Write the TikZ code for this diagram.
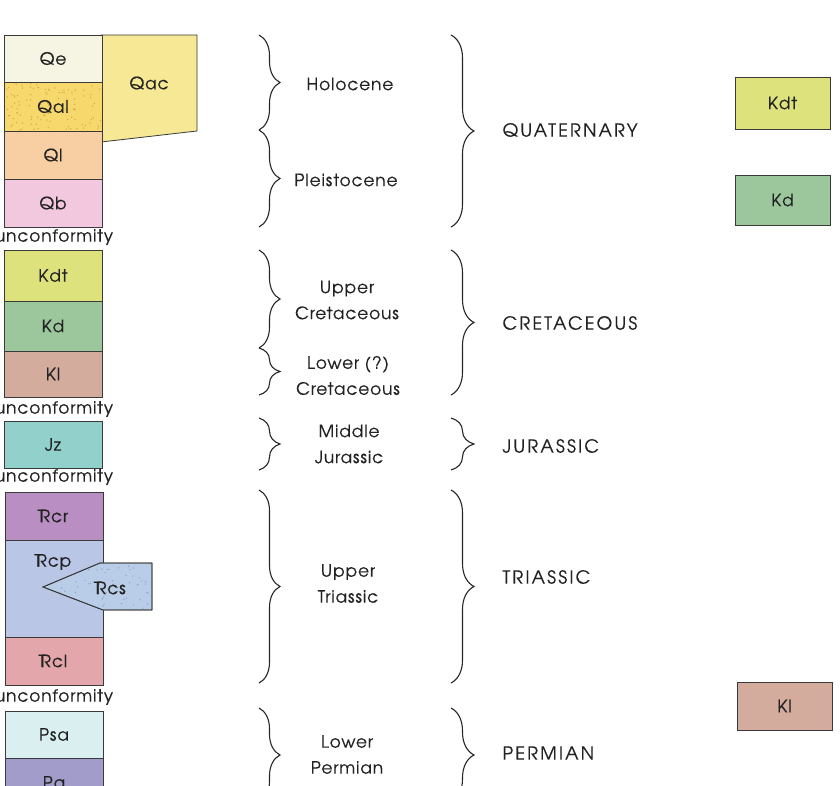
\documentclass[tikz,border=0pt]{standalone}
\usepackage{fontspec}
\setmainfont{TeX Gyre Adventor}[LetterSpace=5,FakeBold=0.35]
\usetikzlibrary{decorations.pathreplacing}
\definecolor{linec}{HTML}{3A3A3A}
\definecolor{cQe}{HTML}{F6F4E2}
\definecolor{cQal}{HTML}{F6D86C}
\definecolor{dQal}{HTML}{D9A84A}
\definecolor{cQac}{HTML}{F6E894}
\definecolor{cQl}{HTML}{F7CFA2}
\definecolor{cQb}{HTML}{F1C8DE}
\definecolor{cKdt}{HTML}{DDE27C}
\definecolor{cKd}{HTML}{9CC69C}
\definecolor{cKl}{HTML}{D3AC9E}
\definecolor{cJz}{HTML}{92D0CC}
\definecolor{cRcr}{HTML}{B98EC2}
\definecolor{cRcp}{HTML}{BAC6E6}
\definecolor{cRcs}{HTML}{BACDE8}
\definecolor{dRcs}{HTML}{8E9FC2}
\definecolor{cRcl}{HTML}{E3A6AA}
\definecolor{cPsa}{HTML}{DAEFEF}
\definecolor{cPq}{HTML}{A29CCB}
\definecolor{txt}{HTML}{222222}
\newcommand\TRsym{\makebox[0pt][l]{\kern-0.14em T}R}
\begin{document}
\begin{tikzpicture}[x=1pt,y=-1pt,
  font=\fontsize{17}{20}\selectfont, text=txt,
  layer/.style={draw=linec, line width=0.8pt, minimum width=98pt, inner sep=0pt, outer sep=0pt},
  sidebox/.style={draw=linec, line width=0.8pt, minimum width=95pt, inner sep=0pt, outer sep=0pt},
  bsmall/.style={draw=black!85, line width=1.1pt, decorate, decoration={brace, amplitude=21pt}},
  blarge/.style={draw=black!85, line width=1.1pt, decorate, decoration={brace, amplitude=23pt}},
  epoch/.style={align=center, font=\fontsize{17}{26}\selectfont},
  period/.style={anchor=west, font=\fontsize{18}{20}\selectfont\addfontfeatures{LetterSpace=12}},
  uncon/.style={font=\fontsize{17}{20}\selectfont}]
\useasboundingbox (0,0) rectangle (840,786);
\clip (0,0) rectangle (840,786);

% Qac wedge
\draw[draw=linec, line width=0.8pt, fill=cQac] (101,35) -- (197,35) -- (197,131) -- (101,142) -- cycle;
\node (qac) at (149,83) {Qac};

% Quaternary column
\node[layer, fill=cQe, minimum height=47pt] (qe) at (53,58.5) {};
\node[layer, fill=cQal, minimum height=49pt] (qal) at (53,106.5) {};
\pgfmathsetseed{7}
\begin{scope}
\clip (4,82) rectangle (102,131);
\foreach \i in {1,...,110} {\fill[dQal] ({4+98*rnd},{82+49*rnd}) circle (0.75pt);}
\end{scope}
\draw[linec, line width=0.8pt] (qal.north west) rectangle (qal.south east);
\node[layer, fill=cQl, minimum height=48pt] (ql) at (53,155) {};
\node[layer, fill=cQb, minimum height=48pt] (qb) at (53,203) {};
\node at (qe) {Qe};
\node at (qal) {Qal};
\node at (ql) {Ql};
\node at (qb) {Qb};
\node[uncon] (u1) at (54,237) {unconformity};

% Cretaceous
\node[layer, fill=cKdt, minimum height=51pt] (kdt) at (53,275.5) {Kdt};
\node[layer, fill=cKd, minimum height=50pt] (kd) at (53,326) {Kd};
\node[layer, fill=cKl, minimum height=46pt] (kl) at (53,374) {Kl};
\node[uncon] (u2) at (54,409) {unconformity};

% Jurassic
\node[layer, fill=cJz, minimum height=47pt] (jz) at (53,444.5) {Jz};
\node[uncon] (u3) at (54,477) {unconformity};

% Triassic
\node[layer, fill=cRcr, minimum height=48pt] (rcr) at (54,516) {\TRsym cr};
\node[layer, fill=cRcp, minimum height=97pt] (rcp) at (54,588.5) {};
\node (rcpl) at (54,562) {\TRsym cp};
\node[layer, fill=cRcl, minimum height=48pt] (rcl) at (54,661) {\TRsym cl};
\draw[draw=linec, line width=0.8pt, fill=cRcs] (43,587) -- (100,563) -- (152,563) -- (152,610) -- (103,610) -- cycle;
\begin{scope}
\clip (43,587) -- (100,563) -- (152,563) -- (152,610) -- (103,610) -- cycle;
\foreach \i in {1,...,70} {\fill[dRcs] ({43+109*rnd},{563+47*rnd}) circle (0.7pt);}
\end{scope}
\draw[draw=linec, line width=0.8pt] (43,587) -- (100,563) -- (152,563) -- (152,610) -- (103,610) -- cycle;
\node (rcs) at (111,588) {\TRsym cs};
\node[uncon] (u4) at (54,697) {unconformity};

% Permian
\node[layer, fill=cPsa, minimum height=47pt] (psa) at (54,734.5) {Psa};
\node[layer, fill=cPq, minimum height=52pt] (pq) at (54,784) {Pq};

% small braces
\draw[bsmall] (259,35) -- (259,130);
\draw[bsmall] (259,130) -- (259,227);
\draw[bsmall] (259,250) -- (259,348);
\draw[bsmall] (259,348) -- (259,395);
\draw[bsmall] (259,418) -- (259,470);
\draw[bsmall] (259,490) -- (259,683);
\draw[bsmall] (259,708) -- (259,802);

% large braces
\draw[blarge] (451,35) -- (451,227);
\draw[blarge] (451,250) -- (451,395);
\draw[blarge] (451,418) -- (451,470);
\draw[blarge] (451,490) -- (451,683);
\draw[blarge] (451,708) -- (451,802);

% epoch labels
\node[epoch] (holo) at (350,84) {Holocene};
\node[epoch] (pleis) at (346,180) {Pleistocene};
\node[epoch] (ucret) at (347,300) {Upper\\Cretaceous};
\node[epoch] (lcret) at (348,375.5) {Lower (?)\\Cretaceous};
\node[epoch] (mjur) at (349,444) {Middle\\Jurassic};
\node[epoch] (utri) at (348,583.5) {Upper\\Triassic};
\node[epoch] (lperm) at (347,754.5) {Lower\\Permian};

% period labels
\node[period] (quat) at (499,130) {QUATERNARY};
\node[period] (cret) at (499,323) {CRETACEOUS};
\node[period] (jur) at (499,446) {JURASSIC};
\node[period] (tri) at (499,577) {TRIASSIC};
\node[period] (perm) at (499,753) {PERMIAN};

% side boxes
\node[sidebox, fill=cKdt, minimum height=52pt] (kdt2) at (782.5,103) {Kdt};
\node[sidebox, fill=cKd, minimum height=50pt] (kd2) at (782.5,200) {Kd};
\node[sidebox, fill=cKl, minimum height=48pt] (kl2) at (784.5,706) {Kl};
\end{tikzpicture}
\end{document}
